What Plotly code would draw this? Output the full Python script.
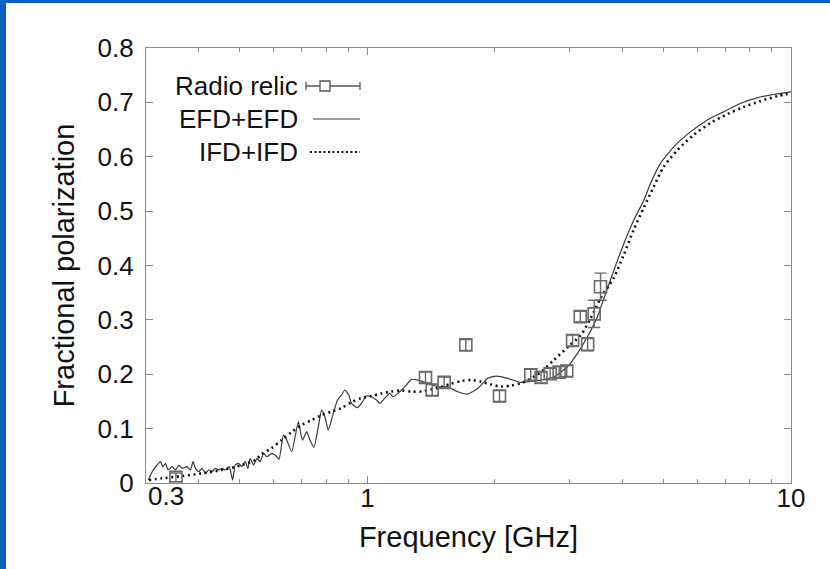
import math
import plotly.graph_objects as go

# ---------------- data ----------------
relic_freq = [0.353, 1.371, 1.422, 1.517, 1.707, 2.05, 2.43, 2.57, 2.70, 2.835,
              2.955, 3.05, 3.18, 3.31, 3.43, 3.55]
relic_pol = [0.0105, 0.194, 0.171, 0.185, 0.254, 0.160, 0.199, 0.194, 0.201, 0.204,
             0.206, 0.262, 0.306, 0.255, 0.311, 0.361]
relic_err = [0.008, 0.010, 0.010, 0.010, 0.010, 0.010, 0.010, 0.010, 0.010, 0.010,
             0.010, 0.010, 0.010, 0.012, 0.025, 0.025]

efd_freq = [0.3038, 0.3103, 0.3188, 0.3246, 0.3288, 0.3335, 0.3384, 0.3458, 0.3521, 0.3586,
            0.3651, 0.3751, 0.3819, 0.3875, 0.3924, 0.3996, 0.4069, 0.4143, 0.4219, 0.4295,
            0.4373, 0.4454, 0.4535, 0.4616, 0.4717, 0.4804, 0.4873, 0.4964, 0.5053, 0.5145,
            0.5220, 0.5286, 0.5384, 0.5481, 0.5580, 0.5684, 0.5787, 0.5943, 0.6051, 0.6183,
            0.6332, 0.6447, 0.6624, 0.6869, 0.7021, 0.7186, 0.7315, 0.7475, 0.7656, 0.7794,
            0.7935, 0.8082, 0.8305, 0.8500, 0.8686, 0.8842, 0.9037, 0.9171, 0.9473, 0.9680,
            0.9945, 1.0219, 1.0500, 1.0689, 1.0982, 1.1284, 1.1494, 1.1912, 1.2354, 1.2692,
            1.3161, 1.3893, 1.4667, 1.5485, 1.6349, 1.7258, 1.8221, 1.9231, 2.0115, 2.1437,
            2.2626, 2.3036, 2.5674, 2.7593, 2.9669, 3.1322, 3.3065, 3.4904, 3.6503, 3.8183,
            4.0320, 4.2561, 4.4937, 4.6592, 4.9181, 5.2868, 5.7864, 6.3327, 6.9276, 7.5858,
            8.3041, 9.0874, 10.0]
efd_pol = [0.0055, 0.0208, 0.0331, 0.0392, 0.0300, 0.0362, 0.0239, 0.0300, 0.0239, 0.0331,
           0.0270, 0.0300, 0.0239, 0.0392, 0.0270, 0.0208, 0.0270, 0.0178, 0.0239, 0.0208,
           0.0270, 0.0239, 0.0270, 0.0239, 0.0300, 0.0055, 0.0331, 0.0362, 0.0300, 0.0392,
           0.0270, 0.0454, 0.0331, 0.0454, 0.0392, 0.0546, 0.0483, 0.0546, 0.0515, 0.0436,
           0.0882, 0.0790, 0.0575, 0.1127, 0.0790, 0.0943, 0.0790, 0.0656, 0.1035, 0.1342,
           0.1219, 0.0974, 0.1281, 0.1526, 0.1618, 0.1710, 0.1618, 0.1465, 0.1384, 0.1465,
           0.1600, 0.1586, 0.1526, 0.1465, 0.1557, 0.1649, 0.1586, 0.1678, 0.1801, 0.1906,
           0.1893, 0.1833, 0.1770, 0.1770, 0.1678, 0.1636, 0.1741, 0.1925, 0.1967, 0.1925,
           0.1862, 0.1851, 0.1893, 0.1954, 0.2138, 0.2384, 0.2689, 0.3057, 0.3487, 0.3915,
           0.4406, 0.4835, 0.5202, 0.5509, 0.5877, 0.6182, 0.6458, 0.6673, 0.6825, 0.6980,
           0.7083, 0.7145, 0.7193]

ifd_freq = [0.3049, 0.3276, 0.3651, 0.4069, 0.4535, 0.5053, 0.5430, 0.5631, 0.5943, 0.6274,
            0.6624, 0.6994, 0.7384, 0.7794, 0.8229, 0.8686, 0.9171, 0.9680, 1.0219, 1.0789,
            1.1390, 1.2023, 1.2692, 1.3401, 1.4148, 1.4934, 1.5763, 1.6643, 1.7568, 1.8543,
            1.9580, 2.0668, 2.1818, 2.3036, 2.3925, 2.5674, 2.7542, 2.9717, 3.1889, 3.3666,
            3.5530, 3.8122, 4.0255, 4.2492, 4.4865, 4.7364, 4.9998, 5.3924, 5.8804, 6.4474,
            7.0695, 7.7120, 8.4560, 9.2716, 10.0]
ifd_pol = [0.0055, 0.0086, 0.0129, 0.0178, 0.0239, 0.0331, 0.0423, 0.0533, 0.0643, 0.0790,
           0.0938, 0.1066, 0.1158, 0.1250, 0.1314, 0.1379, 0.1489, 0.1563, 0.1600, 0.1645,
           0.1682, 0.1700, 0.1682, 0.1682, 0.1719, 0.1765, 0.1829, 0.1875, 0.1893, 0.1866,
           0.1811, 0.1774, 0.1792, 0.1838, 0.1893, 0.2040, 0.2261, 0.2500, 0.2721, 0.3033,
           0.3401, 0.3768, 0.4191, 0.4651, 0.5055, 0.5441, 0.5809, 0.6121, 0.6397, 0.6618,
           0.6783, 0.6912, 0.7022, 0.7114, 0.7169]

y_ticks = [0, 0.1, 0.2, 0.3, 0.4, 0.5, 0.6, 0.7, 0.8]
y_ticktext = ["0", "0.1", "0.2", "0.3", "0.4", "0.5", "0.6", "0.7", "0.8"]
x_ticks = [1, 10]
x_ticktext = ["1", "10"]
x_minor = [0.4, 0.5, 0.6, 0.7, 0.8, 0.9, 2, 3, 4, 5, 6, 7, 8, 9]
legend_names = ["Radio relic", "EFD+EFD", "IFD+IFD"]

FONT = "Liberation Sans, Arial, sans-serif"
W, H = 830, 569
ML, MR, MT, MB = 146, 39, 48, 86
PW, PH = W - ML - MR, H - MT - MB


def px(xp):
    return (xp - ML) / PW


def py(yp):
    return (H - MB - yp) / PH


fig = go.Figure()

fig.add_trace(go.Scatter(
    x=efd_freq, y=efd_pol, mode="lines", name=legend_names[1],
    line=dict(color="#3a3a3a", width=1.2, shape="spline", smoothing=0.5), showlegend=False))
fig.add_trace(go.Scatter(
    x=ifd_freq, y=ifd_pol, mode="lines", name=legend_names[2],
    line=dict(color="#111111", width=2.6, dash="2px,3.6px", shape="spline", smoothing=0.8),
    showlegend=False))
fig.add_trace(go.Scatter(
    x=relic_freq, y=relic_pol, mode="markers", name=legend_names[0],
    marker=dict(symbol="square-open", size=12, color="#6a6a6a", line=dict(width=1.6)),
    error_y=dict(type="data", array=relic_err, visible=True, color="#6a6a6a",
                 thickness=1.4, width=6),
    cliponaxis=False, showlegend=False))

axis_common = dict(showline=True, linecolor="#8a8a8a", linewidth=1.3, mirror="allticks",
                   ticks="inside", tickcolor="#8a8a8a", showgrid=False, zeroline=False,
                   tickfont=dict(family=FONT, size=26, color="#111"))

fig.update_xaxes(type="log", range=[math.log10(0.3), 1.0], tickvals=x_ticks,
                 ticktext=x_ticktext, ticklen=7, ticklabelstandoff=-8,
                 minor=dict(tickvals=x_minor, ticks="inside", ticklen=4, tickcolor="#8a8a8a"),
                 title=dict(text="Frequency [GHz]", font=dict(family=FONT, size=29, color="#111"),
                            standoff=14),
                 **axis_common)
fig.update_yaxes(range=[0, 0.8], tickvals=y_ticks, ticktext=y_ticktext, ticklen=7,
                 ticklabelstandoff=6,
                 title=dict(text="Fractional polarization",
                            font=dict(family=FONT, size=29, color="#111"), standoff=14),
                 **axis_common)

annotations = [
    dict(x=math.log10(0.3), y=0, xref="x", yref="y", text="0.3", showarrow=False,
         xanchor="left", yanchor="top", yshift=4,
         font=dict(family=FONT, size=26, color="#111")),
]
shapes = []

# manual gnuplot-style key (text right-aligned, sample on the right)
key_y = [86, 119, 152]
for name, yy in zip(legend_names, key_y):
    annotations.append(dict(x=px(300), y=py(yy), xref="paper", yref="paper", text=name,
                            showarrow=False, xanchor="right", yanchor="middle",
                            font=dict(family=FONT, size=26, color="#111")))
# Radio relic sample: horizontal bar with caps and an open square
shapes.append(dict(type="line", xref="paper", yref="paper", x0=px(306), x1=px(360),
                   y0=py(key_y[0]), y1=py(key_y[0]), line=dict(color="#555", width=1.3)))
for xc in (306, 360):
    shapes.append(dict(type="line", xref="paper", yref="paper", x0=px(xc), x1=px(xc),
                       y0=py(key_y[0] - 4), y1=py(key_y[0] + 4), line=dict(color="#555", width=1.3)))
shapes.append(dict(type="rect", xref="paper", yref="paper", x0=px(320), x1=px(330),
                   y0=py(key_y[0] + 5), y1=py(key_y[0] - 5), fillcolor="white",
                   line=dict(color="#555", width=1.3)))
shapes.append(dict(type="line", xref="paper", yref="paper", x0=px(313), x1=px(360),
                   y0=py(key_y[1]), y1=py(key_y[1]), line=dict(color="#3a3a3a", width=1.2)))
shapes.append(dict(type="line", xref="paper", yref="paper", x0=px(310), x1=px(360),
                   y0=py(key_y[2]), y1=py(key_y[2]),
                   line=dict(color="#111", width=2.2, dash="2px,2.5px")))

# slide-style blue border (left and top)
shapes.append(dict(type="rect", xref="paper", yref="paper", x0=px(0), x1=px(6),
                   y0=py(H), y1=py(0), fillcolor="#0b5fc3", line=dict(width=0), layer="below"))
shapes.append(dict(type="rect", xref="paper", yref="paper", x0=px(0), x1=px(W),
                   y0=py(3), y1=py(0), fillcolor="#0b5fc3", line=dict(width=0), layer="below"))

fig.update_layout(
    width=W, height=H, margin=dict(l=ML, r=MR, t=MT, b=MB),
    paper_bgcolor="white", plot_bgcolor="white",
    font=dict(family=FONT, color="#111"),
    annotations=annotations, shapes=shapes, showlegend=False,
)

fig.write_html("out.html")
